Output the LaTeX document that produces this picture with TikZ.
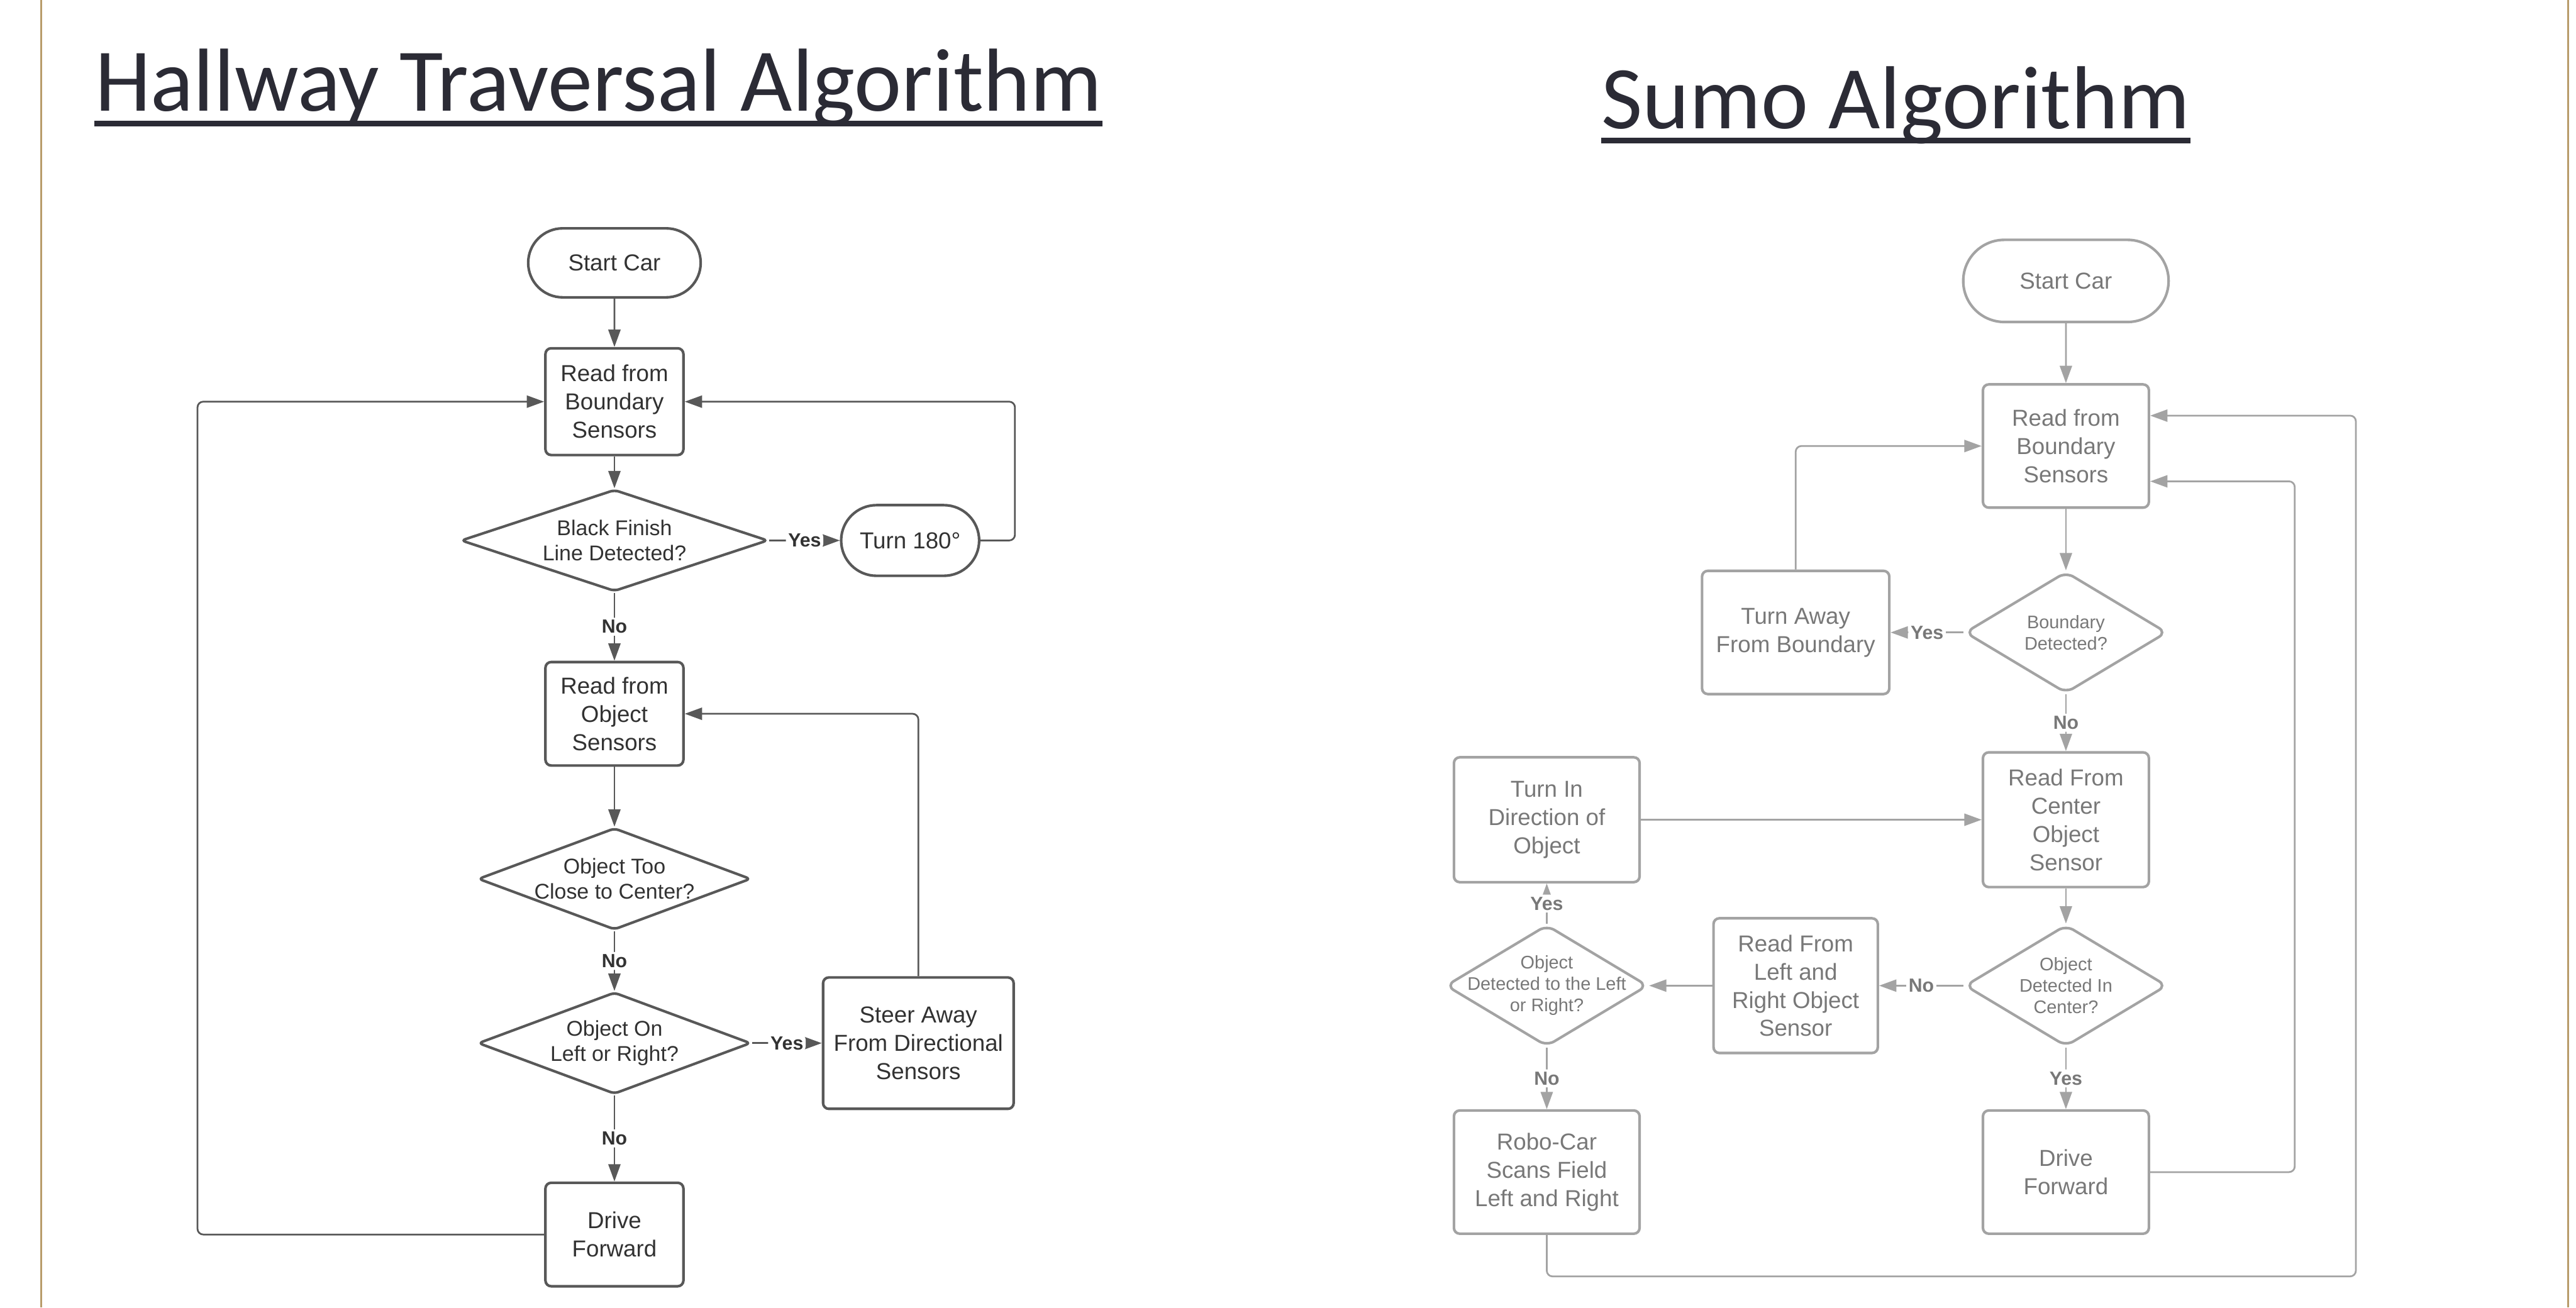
\documentclass[tikz,border=0pt]{standalone}
\usepackage{fontspec}
\setmainfont{Liberation Sans}
\newfontfamily\titlefont{Carlito}
\usetikzlibrary{shapes.geometric,shapes.misc,arrows.meta,calc}
\definecolor{TitleInk}{RGB}{43,43,53}
\definecolor{RuleGold}{RGB}{184,156,106}
\definecolor{InkA}{RGB}{88,88,88}
\definecolor{TextA}{RGB}{50,50,50}
\definecolor{InkB}{RGB}{163,163,163}
\definecolor{TextB}{RGB}{120,120,120}
\tikzset{
Flow/.style={-{Triangle[length=6pt,width=4.2pt]},line width=0.6pt,rounded corners=2pt},
BoxSize/.style 2 args={minimum width=#1*0.02cm,minimum height=#2*0.02cm},
Box/.style={draw,rectangle,rounded corners=2pt,line width=0.9pt,inner sep=0pt,align=center,font=\fontsize{8}{9.8}\selectfont},
Term/.style={draw,rounded rectangle,line width=0.9pt,inner sep=0pt,align=center,font=\fontsize{8}{9.8}\selectfont},
Decide/.style={draw,diamond,line width=0.9pt,inner sep=0pt,label={[DecFont,align=center]center:#1}},
Label/.style={fill=white,inner sep=0.8pt,font=\bfseries\fontsize{6.6}{7}\selectfont},
Title/.style={anchor=base west,inner sep=0pt,text=TitleInk,font=\titlefont\fontsize{31}{36}\selectfont}
}

\begin{document}
\begin{tikzpicture}[x=0.02cm,y=-0.02cm]
	\fill[white] (0,0) rectangle (1568,796);
	\useasboundingbox (0,0) rectangle (1568,796);
	\draw[RuleGold,line width=0.7pt] (25.1,0) -- (25.1,796);
	\draw[RuleGold,line width=0.7pt] (1563.2,0) -- (1563.2,796);
	
	% Titles
	\node[Title] (HallTitle) at (57.5,67.6) {Hallway Traversal Algorithm};
	\draw[TitleInk,line width=1.9pt] ($(HallTitle.base west)+(0,7.7)$) -- ($(HallTitle.base east)+(0,7.7)$);
	\node[Title] (SumoTitle) at (974.5,78.4) {Sumo Algorithm};
	\draw[TitleInk,line width=1.9pt] ($(SumoTitle.base west)+(0,7.2)$) -- ($(SumoTitle.base east)+(0,7.2)$);
	
	\begin{scope}[draw=InkA,text=TextA,DecFont/.style={font=\fontsize{7.4}{8.8}\selectfont},Decide/.append style={rounded corners=1.5pt}]% Hallway
		\node[Term,BoxSize={105}{42}] (StartA) at (374,160) {Start Car};
		\node[Box,BoxSize={84}{65}] (ReadBndA) at (374,244.5) {Read from\\Boundary\\Sensors};
		\node[Decide={Black Finish\\Line Detected?},BoxSize={187}{62}] (FinishA) at (374,329) {};
		\node[Term,BoxSize={84}{43}] (TurnA) at (554,329) {Turn 180°};
		\node[Box,BoxSize={84}{63}] (ReadObjA) at (374,434.5) {Read from\\Object\\Sensors};
		\node[Decide={Object Too\\Close to Center?},BoxSize={166}{62}] (CloseA) at (374,535) {};
		\node[Decide={Object On\\Left or Right?},BoxSize={166}{62}] (SideA) at (374,635) {};
		\node[Box,BoxSize={116}{80}] (SteerA) at (559,635) {Steer Away\\From Directional\\Sensors};
		\node[Box,BoxSize={84}{63}] (DriveA) at (374,751.5) {Drive\\Forward};
		
		\draw[Flow] (StartA) -- (ReadBndA);
		\draw[Flow] (ReadBndA) -- (FinishA);
		\draw[Flow] (FinishA.east) -- node[Label] {Yes} (TurnA.west);
		\draw[Flow] (TurnA.east) -- ++(21,0) |- (ReadBndA.east);
		\draw[Flow] (FinishA) -- node[Label] {No} (ReadObjA);
		\draw[Flow] (ReadObjA) -- (CloseA);
		\draw[Flow] (CloseA) -- node[Label] {No} (SideA);
		\draw[Flow] (SideA.east) -- node[Label] {Yes} (SteerA.west);
		\draw[Flow] (SteerA.north) |- (ReadObjA.east);
		\draw[Flow] (SideA) -- node[Label] {No} (DriveA);
		\draw[Flow] (DriveA.west) -- ++(-211,0) |- (ReadBndA.west);
	\end{scope}
	
	\begin{scope}[draw=InkB,text=TextB,DecFont/.style={font=\fontsize{6.3}{7.4}\selectfont},Decide/.append style={rounded corners=3pt}]% Sumo
		\node[Term,BoxSize={125}{50}] (StartB) at (1257.5,171) {Start Car};
		\node[Box,BoxSize={101}{75}] (ReadBndB) at (1257.5,271.5) {Read from\\Boundary\\Sensors};
		\node[Decide={Boundary\\Detected?},BoxSize={123}{74}] (BndDetB) at (1257.5,385) {};
		\node[Box,BoxSize={114}{75}] (AwayB) at (1093,385) {Turn Away\\From Boundary};
		\node[Box,BoxSize={101}{82}] (CenterB) at (1257.5,499) {Read From\\Center\\Object\\Sensor};
		\node[Box,BoxSize={113}{76}] (TurnInB) at (941.5,499) {Turn In\\Direction of\\Object};
		\node[Decide={Object\\Detected In\\Center?},BoxSize={123}{74}] (CtrDetB) at (1257.5,600) {};
		\node[Box,BoxSize={100}{82}] (SidesB) at (1093,600) {Read From\\Left and\\Right Object\\Sensor};
		\node[Decide={Object\\Detected to the Left\\or Right?},BoxSize={123}{74}] (LRDetB) at (941.5,600) {};
		\node[Box,BoxSize={113}{75}] (ScanB) at (941.5,713.5) {Robo-Car\\Scans Field\\Left and Right};
		\node[Box,BoxSize={101}{75}] (DriveB) at (1257.5,713.5) {Drive\\Forward};
		\coordinate (LoopB) at (1434,777);
		
		\draw[Flow] (StartB) -- (ReadBndB);
		\draw[Flow] (ReadBndB) -- (BndDetB);
		\draw[Flow] (BndDetB) -- node[Label] {Yes} (AwayB);
		\draw[Flow] (AwayB.north) |- (ReadBndB.west);
		\draw[Flow] (BndDetB) -- node[Label] {No} (CenterB);
		\draw[Flow] (TurnInB) -- (CenterB);
		\draw[Flow] (CenterB) -- (CtrDetB);
		\draw[Flow] (CtrDetB) -- node[Label] {No} (SidesB);
		\draw[Flow] (SidesB) -- (LRDetB);
		\draw[Flow] (LRDetB) -- node[Label] {Yes} (TurnInB);
		\draw[Flow] (LRDetB) -- node[Label] {No} (ScanB);
		\draw[Flow] (CtrDetB) -- node[Label] {Yes} (DriveB);
		\draw[Flow] (DriveB.east) -- ++(88,0) |- ($(ReadBndB.east)+(0,21.5)$);
		\draw[Flow] (ScanB.south) |- (LoopB) |- ($(ReadBndB.east)+(0,-18.5)$);
	\end{scope}
\end{tikzpicture}
\end{document}
